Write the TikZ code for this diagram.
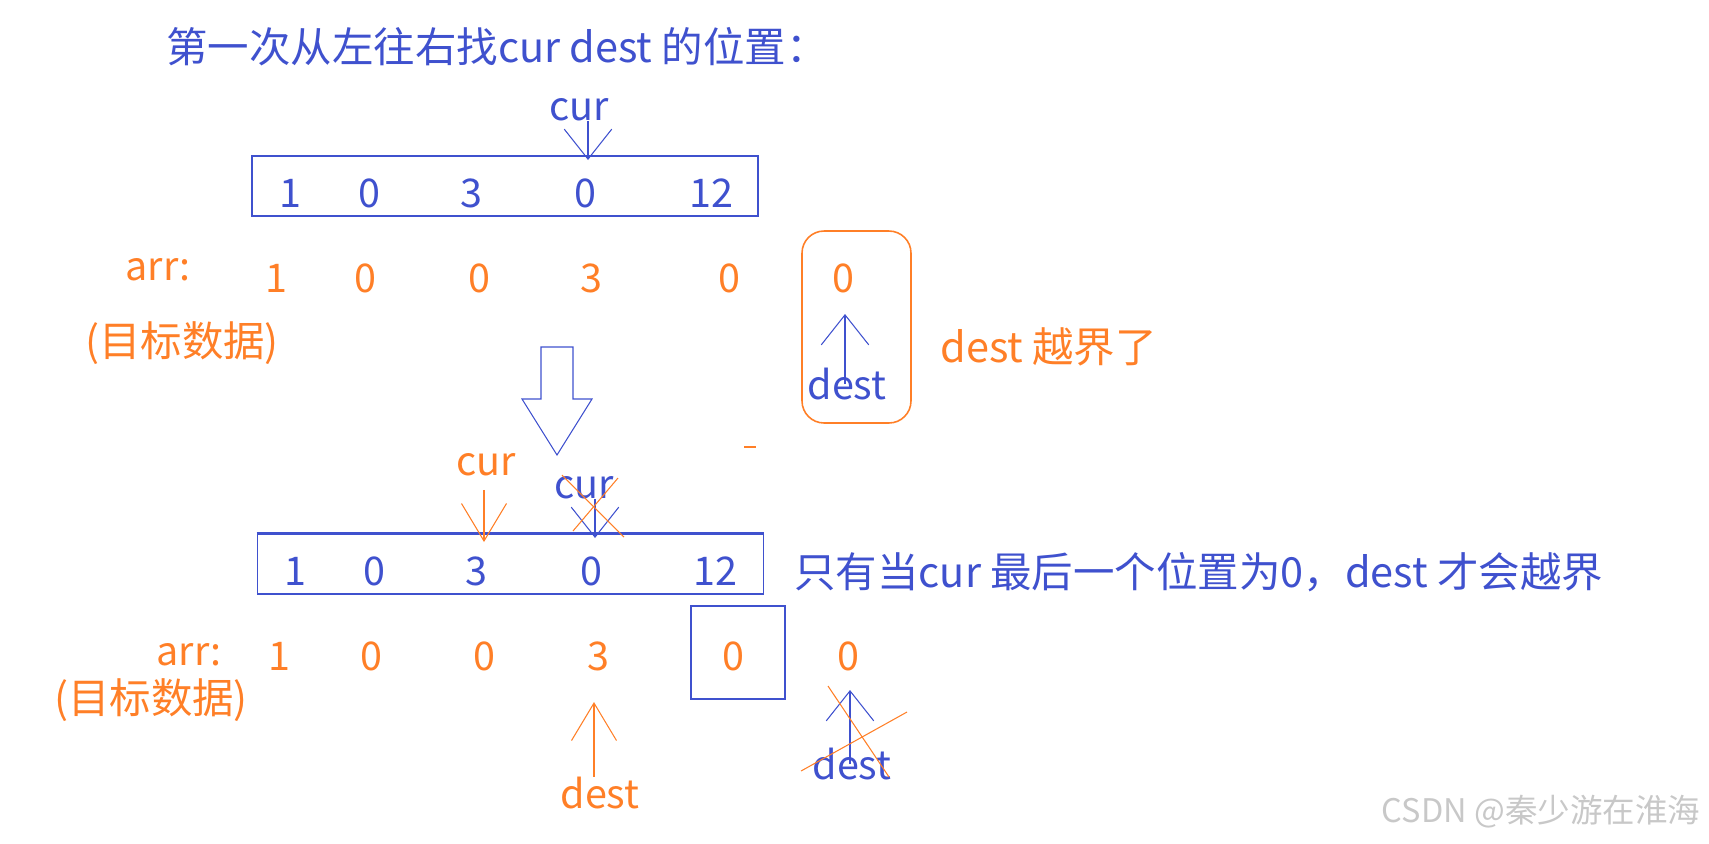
\documentclass[tikz,border=0pt]{standalone}
\usepackage{fontspec}
\setmainfont{Noto Sans CJK SC}
\usepackage{tikz}
\usetikzlibrary{
  arrows.meta,
  positioning
}
\definecolor{markblue}{RGB}{63, 81, 206}
\definecolor{markorange}{RGB}{255, 127, 39}
\definecolor{wmgray}{RGB}{200, 200, 200}
\tikzset{
bluetext/.style={
  text=markblue,
  font=\fontsize{22.5}{27}\selectfont,
  inner sep=0pt
},
orangetext/.style={
  text=markorange,
  font=\fontsize{22.5}{27}\selectfont,
  inner sep=0pt
},
bigtext/.style={
  font=\fontsize{23.6}{28}\selectfont
},
wmtext/.style={
  text=wmgray,
  font=\fontsize{18.5}{22}\selectfont,
  inner sep=0pt
},
bluebox/.style={
  draw=markblue,
  inner sep=0pt
},
orangebox/.style={
  draw=markorange,
  line width=0.9pt,
  rounded corners=0.44cm,
  inner sep=0pt
},
blueptr/.style={
  -{Straight Barb[length=6mm,width=9.5mm]},
  line width=0.6pt,
  draw=markblue
},
orangeptr/.style={
  -{Straight Barb[length=7.5mm,width=9mm]},
  line width=0.6pt,
  draw=markorange
},
crossout/.style={
  draw=markorange,
  line width=0.6pt
}
}

\begin{document}
\begin{tikzpicture}[x=0.02cm,y=-0.02cm]
  \useasboundingbox (0,0) rectangle (1709,843);
  \node[bluetext, bigtext, anchor=base west] (title) at (166,62) {第一次从左往右找cur dest 的位置：};

  % first pass
  \node[bluebox, line width=1.3pt, minimum width=10.12cm, minimum height=1.2cm] (src1) at (505,186) {};
  \node[bluetext, anchor=base] (s1a) at (290,207) {1};
  \node[bluetext, anchor=base] (s1b) at (369,207) {0};
  \node[bluetext, anchor=base] (s1c) at (471,207) {3};
  \node[bluetext, anchor=base] (s1d) at (585,207) {0};
  \node[bluetext, anchor=base] (s1e) at (711,207) {12};
  \node[bluetext, anchor=base] (cur1) at (579,120) {cur};
  \coordinate (cur1tip) at (588,160);
  \draw[blueptr] (cur1tip |- cur1.south) -- (cur1tip);

  \node[orangetext, anchor=base] (arr1) at (158,280) {arr:};
  \node[orangetext, anchor=base] (d1a) at (276,292) {1};
  \node[orangetext, anchor=base] (d1b) at (365,292) {0};
  \node[orangetext, anchor=base] (d1c) at (479,292) {0};
  \node[orangetext, anchor=base] (d1d) at (591,292) {3};
  \node[orangetext, anchor=base] (d1e) at (729,292) {0};
  \node[orangetext, anchor=base] (d1f) at (843,292) {0};
  \node[orangetext, bigtext] (goal1) at (182,343) {(目标数据)};

  \node[orangebox, minimum width=2.18cm, minimum height=3.84cm] (over) at (856.5,327) {};
  \node[bluetext] (dest1) at (847,384) {dest};
  \coordinate (dest1tip) at (845,314);
  \draw[blueptr] (dest1tip |- dest1.center) -- (dest1tip);
  \node[orangetext, bigtext, anchor=west] (overlabel) at (940,347) {dest 越界了};

  % hollow arrow between passes
  \draw[markblue, line width=0.6pt] (541,347) -- (573,347) -- (573,399) -- (592,399)
    -- (557,455) -- (522,399) -- (541,399) -- cycle;
  \draw[markorange, line width=1.2pt] (744,447) -- (756,447);

  % second pass
  \node[bluebox, line width=0.6pt, minimum width=10.14cm, minimum height=1.2cm] (src2) at (510.5,564) {};
  \draw[markblue, line width=1.7pt] (src2.north west) -- (src2.north east);
  \node[bluetext, anchor=base] (s2a) at (295,585) {1};
  \node[bluetext, anchor=base] (s2b) at (374,585) {0};
  \node[bluetext, anchor=base] (s2c) at (476,585) {3};
  \node[bluetext, anchor=base] (s2d) at (591,585) {0};
  \node[bluetext, anchor=base] (s2e) at (715,585) {12};
  \node[bluetext, bigtext, anchor=west] (rule) at (794,572) {只有当cur 最后一个位置为0，dest 才会越界};

  \node[orangetext, anchor=base] (cur2) at (486,475) {cur};
  \coordinate (cur2tip) at (484,542);
  \draw[orangeptr, shorten <=0.28cm] (cur2tip |- cur2.south) -- (cur2tip);
  \node[bluetext, anchor=base] (cur3) at (584,498) {cur};
  \coordinate (cur3tip) at (595,538);
  \draw[blueptr] (cur3tip |- cur3.south) -- (cur3tip);
  \draw[crossout] (562,475) -- (624,537);
  \draw[crossout] (618,478) -- (573,531);

  \node[orangetext, anchor=base] (arr2) at (189,665) {arr:};
  \node[orangetext, anchor=base] (d2a) at (279,670) {1};
  \node[orangetext, anchor=base] (d2b) at (371,670) {0};
  \node[orangetext, anchor=base] (d2c) at (484,670) {0};
  \node[orangetext, anchor=base] (d2d) at (598,670) {3};
  \node[orangetext, anchor=base] (d2e) at (733,670) {0};
  \node[orangetext, anchor=base] (d2f) at (848,670) {0};
  \node[orangetext, bigtext] (goal2) at (151,700) {(目标数据)};
  \node[bluebox, line width=0.9pt, minimum width=1.88cm, minimum height=1.86cm] (hit) at (738,652.5) {};

  \node[orangetext] (dest2) at (600,793) {dest};
  \coordinate (dest2tip) at (594,702);
  \draw[orangeptr] (dest2tip |- dest2.north) -- (dest2tip);
  \node[bluetext] (dest3) at (852,764) {dest};
  \coordinate (dest3tip) at (850,690);
  \draw[blueptr] (dest3tip |- dest3.center) -- (dest3tip);
  \draw[crossout] (801,771) -- (907,712);
  \draw[crossout] (828,686) -- (889,777);

  \node[wmtext] (wm) at (1541,812) {CSDN @秦少游在淮海};
\end{tikzpicture}
\end{document}
